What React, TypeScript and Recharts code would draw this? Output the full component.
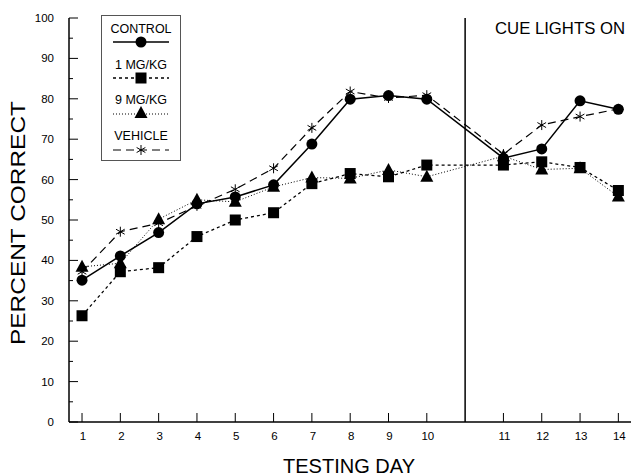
import React from 'react';
import { LineChart, Line, XAxis, YAxis, ReferenceLine, Legend } from 'recharts';

const days = [1, 2, 3, 4, 5, 6, 7, 8, 9, 10, 11, 12, 13, 14];
const control = [35.1, 41.1, 46.9, 54.0, 55.7, 58.7, 68.8, 79.9, 80.8, 79.9, 65.3, 67.6, 79.5, 77.4];
const mg1 = [26.3, 37.2, 38.2, 45.9, 50.0, 51.8, 59.0, 61.5, 60.7, 63.6, 63.6, 64.4, 63.0, 57.3];
const mg9 = [38.4, 39.3, 50.2, 55.0, 54.5, 58.2, 60.5, 60.3, 62.4, 60.7, 65.8, 62.5, 62.8, 55.8];
const vehicle = [37.2, 47.1, 49.2, 53.5, 57.6, 62.8, 72.8, 81.8, 80.2, 80.9, 66.3, 73.5, 75.6, 77.5];
const yTicks = [0, 5, 10, 15, 20, 25, 30, 35, 40, 45, 50, 55, 60, 65, 70, 75, 80, 85, 90, 95, 100];
const seriesNames = ['CONTROL', '1 MG/KG', '9 MG/KG', 'VEHICLE'];
const cueAfterDay = 10;
const cueLabel = 'CUE LIGHTS ON';
const xTitle = 'TESTING DAY';
const yTitle = 'PERCENT CORRECT';

const FONT = '"Liberation Sans", Arial, Helvetica, sans-serif';

const data = days.map((d, i) => ({
  slot: d <= cueAfterDay ? d : d + 1,
  day: d,
  control: control[i],
  mg1: mg1[i],
  mg9: mg9[i],
  vehicle: vehicle[i],
}));
const slots = data.map((d) => d.slot);
const cueSlot = cueAfterDay + 1;

const Circle = ({ cx, cy }: any) => <circle cx={cx} cy={cy} r={5.5} fill="#000" />;
const Square = ({ cx, cy }: any) => <rect x={cx - 5.5} y={cy - 5.5} width={11} height={11} fill="#000" />;
const Tri = ({ cx, cy }: any) => (
  <polygon points={`${cx},${cy - 7} ${cx + 6.5},${cy + 5} ${cx - 6.5},${cy + 5}`} fill="#000" />
);
const Star = ({ cx, cy }: any) => {
  const r = 5;
  return (
    <g stroke="#000" strokeWidth={1}>
      <line x1={cx} y1={cy - r} x2={cx} y2={cy + r} />
      <line x1={cx - r * 0.87} y1={cy - r * 0.5} x2={cx + r * 0.87} y2={cy + r * 0.5} />
      <line x1={cx - r * 0.87} y1={cy + r * 0.5} x2={cx + r * 0.87} y2={cy - r * 0.5} />
    </g>
  );
};

const mkDot = (Shape: any) => (props: any) => (
  <Shape key={`dot-${props.index}`} cx={props.cx} cy={props.cy} />
);

const YTick = (props: any) => {
  const { x, y, payload } = props;
  const v = payload.value;
  const major = v % 10 === 0;
  return (
    <g>
      <line x1={x} y1={y} x2={x + (major ? 9 : 4)} y2={y} stroke="#000" strokeWidth={1} />
      {major && (
        <text x={x - 15} y={y + 4} textAnchor="end" fontSize={11.5} fontFamily={FONT} fill="#000">
          {v}
        </text>
      )}
    </g>
  );
};

const XTick = (props: any) => {
  const { x, y, payload } = props;
  const item = data.find((d) => d.slot === payload.value);
  return (
    <g>
      <line x1={x} y1={y} x2={x} y2={y - 9} stroke="#000" strokeWidth={1} />
      <text x={x + 1} y={y + 18} textAnchor="middle" fontSize={11.5} fontFamily={FONT} fill="#000">
        {item ? item.day : ''}
      </text>
    </g>
  );
};

const LegendBox = () => {
  const t = (y: number, s: string) => (
    <text x={40} y={y} textAnchor="middle" fontSize={12.5} fontFamily={FONT} fill="#000">
      {s}
    </text>
  );
  return (
    <svg width={80} height={146} style={{ display: 'block' }}>
      <rect x={0.5} y={0.5} width={79} height={145} fill="#fff" stroke="#555" strokeWidth={1} />
      {t(18, seriesNames[0])}
      <line x1={12} y1={27} x2={68} y2={27} stroke="#000" strokeWidth={1.5} />
      <Circle cx={40} cy={27} />
      {t(53.5, seriesNames[1])}
      <line x1={12} y1={63} x2={68} y2={63} stroke="#000" strokeWidth={1.3} strokeDasharray="3 3" />
      <Square cx={40} cy={63} />
      {t(89, seriesNames[2])}
      <line x1={12} y1={99} x2={68} y2={99} stroke="#000" strokeWidth={1} strokeDasharray="1 2" />
      <Tri cx={40} cy={98} />
      {t(125, seriesNames[3])}
      <line x1={12} y1={135} x2={68} y2={135} stroke="#000" strokeWidth={1} strokeDasharray="8 5" />
      <Star cx={40} cy={135} />
    </svg>
  );
};

export default function App() {
  return (
    <div style={{ position: 'absolute', left: 0, top: 0, width: 631, height: 476, background: '#fff' }}>
      <LineChart width={631} height={476} data={data} margin={{ top: 18, right: 0, bottom: 0, left: 0 }}>
        <XAxis
          type="number"
          dataKey="slot"
          domain={[0.66, 15.33]}
          allowDataOverflow
          ticks={slots}
          interval={0}
          height={54}
          tickSize={0}
          tickMargin={0}
          tickLine={false}
          tick={XTick}
          axisLine={{ stroke: '#000', strokeWidth: 1.5 }}
          label={{
            content: () => (
              <text x={349} y={473} textAnchor="middle" fontSize={20} fontFamily={FONT} fill="#000" textLength={132} lengthAdjust="spacingAndGlyphs">
                {xTitle}
              </text>
            ),
          }}
        />
        <YAxis
          type="number"
          domain={[0, 100]}
          ticks={yTicks}
          interval={0}
          width={69}
          tickSize={0}
          tickMargin={0}
          tickLine={false}
          tick={YTick}
          axisLine={{ stroke: '#000', strokeWidth: 1.5 }}
          label={{
            content: () => (
              <text x={25} y={223} transform="rotate(-90 25 223)" textAnchor="middle" fontSize={21} fontFamily={FONT} fill="#000" textLength={244} lengthAdjust="spacingAndGlyphs">
                {yTitle}
              </text>
            ),
          }}
        />
        <ReferenceLine
          x={cueSlot}
          stroke="#000"
          strokeWidth={1.5}
          label={{
            content: () => (
              <text x={495} y={34} fontSize={17} fontFamily={FONT} fill="#000" textLength={130} lengthAdjust="spacingAndGlyphs">
                {cueLabel}
              </text>
            ),
          }}
        />
        <Legend
          layout="horizontal"
          verticalAlign="middle"
          align="center"
          content={LegendBox}
          wrapperStyle={{ position: 'absolute', left: 101, top: 15, width: 80, height: 146 }}
        />
        <Line dataKey="vehicle" name={seriesNames[3]} stroke="#000" strokeWidth={1.2} strokeDasharray="8 5" dot={mkDot(Star)} activeDot={false} isAnimationActive={false} />
        <Line dataKey="mg9" name={seriesNames[2]} stroke="#000" strokeWidth={1} strokeDasharray="1 2" dot={mkDot(Tri)} activeDot={false} isAnimationActive={false} />
        <Line dataKey="mg1" name={seriesNames[1]} stroke="#000" strokeWidth={1.3} strokeDasharray="3 3" dot={mkDot(Square)} activeDot={false} isAnimationActive={false} />
        <Line dataKey="control" name={seriesNames[0]} stroke="#000" strokeWidth={1.5} dot={mkDot(Circle)} activeDot={false} isAnimationActive={false} />
      </LineChart>
    </div>
  );
}
